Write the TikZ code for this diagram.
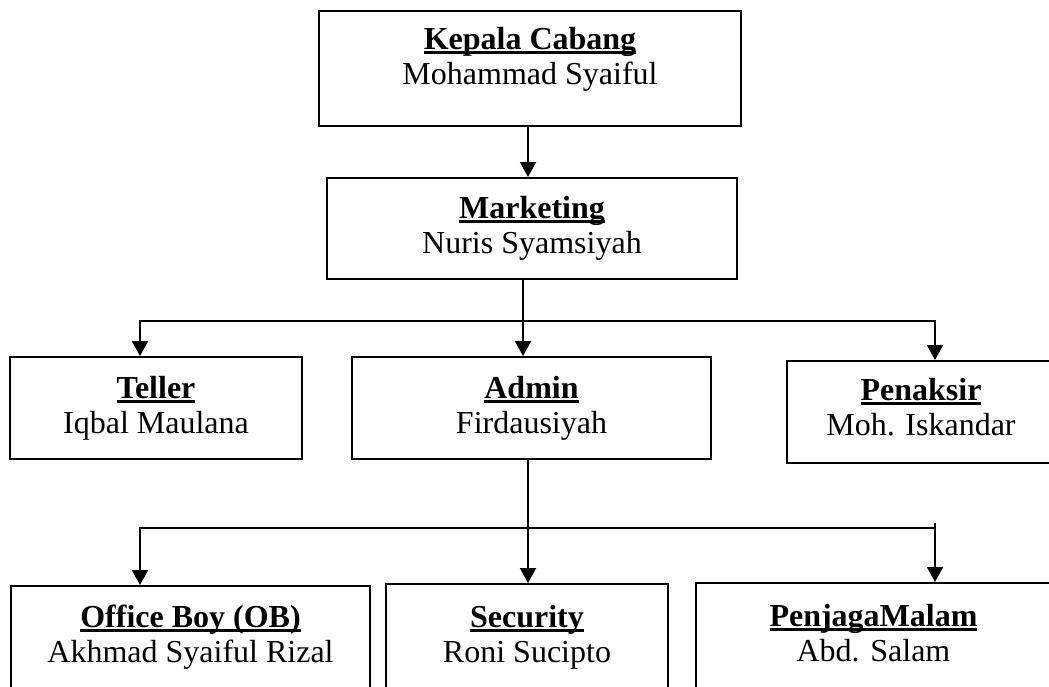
\documentclass[tikz,border=0pt]{standalone}
\usepackage{fontspec}
\setmainfont{Liberation Serif}
\usepackage{tikz}
\usetikzlibrary{arrows.meta,positioning}

% bold title with a thick underline
\newcommand{\judul}[1]{\setbox0=\hbox{\bfseries #1}\rlap{\rule[-4.5pt]{\wd0}{2.6pt}}\box0}

\begin{document}
\begin{tikzpicture}[
  x=1pt,y=-1pt,
  jabatan/.style={rectangle,draw,line width=2pt,inner sep=0pt,anchor=north,align=center,
    font=\fontsize{32}{35}\selectfont,text height=75pt,text depth=26pt},
  line/.style={-{Triangle[length=15pt,width=16pt]},line width=2pt},
  garis/.style={line width=2pt,line cap=rect}
]
  \clip (0,0) rectangle (1049,686);

  \node[jabatan,minimum width=422pt,text height=73pt,text depth=42pt] (kepala) at (530,10) {\judul{Kepala Cabang}\\Mohammad Syaiful};
  \node[jabatan,minimum width=410pt] (marketing) at (532,177) {\judul{Marketing}\\Nuris Syamsiyah};

  \node[jabatan,minimum width=292pt,text height=76pt] (teller) at (156,356) {\judul{Teller}\\Iqbal Maulana};
  \node[jabatan,minimum width=359pt,text height=76pt] (admin) at (531.5,356) {\judul{Admin}\\Firdausiyah};
  \node[jabatan,minimum width=268pt,text height=74pt,text depth=28pt] (penaksir) at (921,360) {\judul{Penaksir}\\Moh. Iskandar};

  \node[jabatan,minimum width=359pt,text height=76pt,text depth=40pt] (ob) at (190.5,585) {\judul{Office Boy (OB)}\\Akhmad Syaiful Rizal};
  \node[jabatan,minimum width=282pt,text height=78pt,text depth=40pt] (security) at (527,583) {\judul{Security}\\Roni Sucipto};
  \node[jabatan,minimum width=355pt,text height=78pt,text depth=40pt] (penjaga) at (873.5,582) {\judul{PenjagaMalam}\\Abd. Salam};

  \coordinate (atasL) at (140,321);
  \coordinate (atasM) at (523,321);
  \coordinate (atasR) at (935,321);
  \coordinate (bawahL) at (140,528);
  \coordinate (bawahM) at (528,528);
  \coordinate (bawahR) at (935,528);

  \draw[line] (kepala.south -| bawahM) -- (marketing.north -| bawahM);

  \draw[line] (marketing.south -| atasM) -- (admin.north -| atasM);
  \draw[garis] (atasL) -- (atasR);
  \draw[line] (atasL) -- (atasL |- teller.north);
  \draw[line] (atasR) -- (atasR |- penaksir.north);

  \draw[line] (admin.south -| bawahM) -- (security.north -| bawahM);
  \draw[garis] (bawahL) -- (bawahR);
  \draw[line] (bawahL) -- (bawahL |- ob.north);
  \draw[line] ([yshift=5pt]bawahR) -- (bawahR |- penjaga.north);
\end{tikzpicture}
\end{document}
